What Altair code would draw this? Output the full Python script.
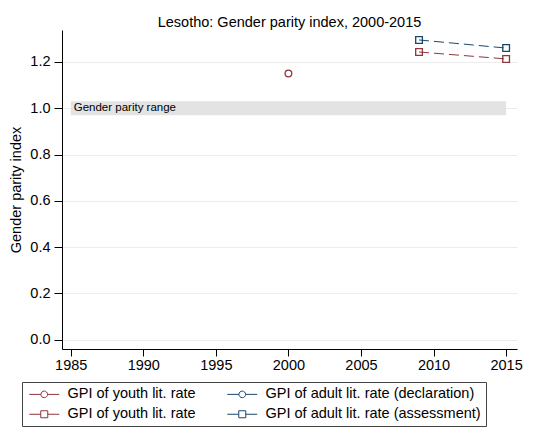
import altair as alt
import pandas as pd

# ---- data ----
series_keys = ["y_decl", "a_decl", "y_assess", "a_assess"]
series_labels = ["GPI of youth lit. rate", "GPI of adult lit. rate (declaration)",
                 "GPI of youth lit. rate", "GPI of adult lit. rate (assessment)"]
series_colors = ["#90353b", "#1a476f", "#90353b", "#1a476f"]

youth_decl_years = [2000]
youth_decl_vals = [1.15]
youth_assess_years = [2009, 2015]
youth_assess_vals = [1.243, 1.213]
adult_assess_years = [2009, 2015]
adult_assess_vals = [1.295, 1.26]

band_start, band_end = [1985], [2015]
band_low, band_mid, band_high = [0.97], [1.0], [1.03]
band_label = ["Gender parity range"]

title = "Lesotho: Gender parity index, 2000-2015"
x_ticks = [1985, 1990, 1995, 2000, 2005, 2010, 2015]
y_ticks = [0.0, 0.2, 0.4, 0.6, 0.8, 1.0, 1.2]

rows = []
for yr, v in zip(youth_decl_years, youth_decl_vals):
    rows.append({"year": yr, "value": v, "series": "y_decl"})
for yr, v in zip(youth_assess_years, youth_assess_vals):
    rows.append({"year": yr, "value": v, "series": "y_assess"})
for yr, v in zip(adult_assess_years, adult_assess_vals):
    rows.append({"year": yr, "value": v, "series": "a_assess"})
df = pd.DataFrame(rows)
df["series_l"] = df["series"]

band_df = pd.DataFrame({"x": band_start, "x2": band_end, "y": band_low,
                        "y2": band_high, "ym": band_mid, "label": band_label})

FONT = "Liberation Sans"
FS = 14.5
xscale = alt.Scale(domain=[1984.4, 2015.75], nice=False, zero=False)
yscale = alt.Scale(domain=[-0.04, 1.338], nice=False, zero=False)

xaxis = alt.Axis(values=x_ticks, format="d", title=None, grid=False,
                 labelFontSize=FS, labelColor="black", domainColor="black",
                 tickColor="black", tickSize=7, labelPadding=2, labelFlush=False)
yaxis = alt.Axis(values=y_ticks, format=".1f", title="Gender parity index",
                 grid=True, gridColor="#ececec", labelFontSize=FS, labelColor="black",
                 titleFontSize=FS, titleFontWeight="normal", titleColor="black",
                 domainColor="black", tickColor="black", tickSize=8, labelPadding=4,
                 titlePadding=6)

band = alt.Chart(band_df).mark_rect(color="#e3e3e3").encode(
    x=alt.X("x:Q", scale=xscale, axis=xaxis), x2="x2:Q",
    y=alt.Y("y:Q", scale=yscale, axis=yaxis), y2="y2:Q")

band_text = alt.Chart(band_df).mark_text(align="left", baseline="middle", dx=3,
                                         fontSize=11.5, font=FONT, color="black").encode(
    x=alt.X("x:Q", scale=xscale), y=alt.Y("ym:Q", scale=yscale), text="label:N")

color_scale = alt.Scale(domain=series_keys, range=series_colors)

lines = alt.Chart(df).mark_line(strokeDash=[10, 5], strokeWidth=1).encode(
    x=alt.X("year:Q", scale=xscale), y=alt.Y("value:Q", scale=yscale),
    color=alt.Color("series:N", scale=color_scale, legend=None))

points = alt.Chart(df).mark_point(filled=False, strokeWidth=1.3, opacity=1).encode(
    x=alt.X("year:Q", scale=xscale), y=alt.Y("value:Q", scale=yscale),
    color=alt.Color("series:N", scale=color_scale, legend=None),
    shape=alt.Shape("series:N", scale=alt.Scale(domain=series_keys,
                    range=["circle", "circle", "square", "square"]), legend=None),
    size=alt.Size("series:N", scale=alt.Scale(domain=series_keys,
                  range=[45, 45, 60, 60]), legend=None))

circ_path = "M-3,0H-0.66 M0.66,0H3 M-0.66,0A0.66,0.66 0 1,1 0.66,0A0.66,0.66 0 1,1 -0.66,0"
sq_path = "M-3,0H-0.7 M0.7,0H3 M-0.7,-0.7H0.7V0.7H-0.7Z"

label_expr = ("{" + ",".join(f"'{k}':'{l}'" for k, l in zip(series_keys, series_labels))
              + "}[datum.value]")

legend_layer = alt.Chart(df).transform_filter("datum.year < 0").mark_point(
    filled=False, strokeWidth=1).encode(
    x=alt.X("year:Q", scale=xscale), y=alt.Y("value:Q", scale=yscale),
    color=alt.Color("series_l:N", scale=color_scale,
                    legend=alt.Legend(title=None, labelExpr=label_expr)),
    shape=alt.Shape("series_l:N", scale=alt.Scale(domain=series_keys,
                    range=[circ_path, circ_path, sq_path, sq_path])))

chart = alt.layer(band, band_text, lines, points, legend_layer).resolve_scale(
    color="independent", shape="independent", size="independent"
).properties(
    width=455, height=319,
    title=alt.TitleParams(title, fontSize=FS, fontWeight="normal", font=FONT,
                          color="black", anchor="middle", offset=0),
    autosize=alt.AutoSizeParams(type="none"),
    padding={"left": 54, "top": 22, "right": 13, "bottom": 78},
).configure(font=FONT).configure_view(stroke=None).configure_legend(
    orient="none", legendX=-40, legendY=352, columns=2, direction="horizontal",
    strokeColor="#444", padding=5, columnPadding=29, rowPadding=5,
    labelFontSize=FS, labelFont=FONT, symbolOffset=10,
    labelColor="black", symbolSize=100, symbolStrokeWidth=1, symbolOpacity=1,
    symbolFillColor="transparent", labelOffset=16, labelLimit=400,
)

chart.save("out.html", embed_options={"renderer": "svg", "actions": False})
